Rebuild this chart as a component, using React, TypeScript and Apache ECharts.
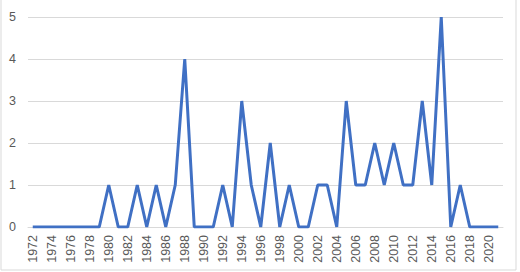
import React, { useEffect, useRef } from "react";
import * as echarts from "echarts";

const years: string[] = [];
for (let y = 1972; y <= 2021; y++) years.push(String(y));

const counts: number[] = [
  0, 0, 0, 0, 0, 0, 0, 0, // 1972-1979
  1, 0, 0, 1, 0, 1, 0, 1, 4, 0, // 1980-1989
  0, 0, 1, 0, 3, 1, 0, 2, 0, 1, // 1990-1999
  0, 0, 1, 1, 0, 3, 1, 1, 2, 1, // 2000-2009
  2, 1, 1, 3, 1, 5, 0, 1, 0, 0, // 2010-2019
  0, 0, // 2020-2021
];

const yTicks = [0, 1, 2, 3, 4, 5];

export default function App() {
  const ref = useRef<HTMLDivElement>(null);
  useEffect(() => {
    if (!ref.current) return;
    const chart = echarts.init(ref.current, undefined, { renderer: "svg" });
    chart.setOption({
      animation: false,
      backgroundColor: "#ffffff",
      textStyle: { fontFamily: "Liberation Sans" },
      graphic: [
        {
          type: "rect",
          shape: { x: 1, y: -5, width: 515, height: 275 },
          style: { fill: "none", stroke: "#d9d9d9", lineWidth: 1 },
          silent: true,
        },
      ],
      grid: { left: 28, right: 17, top: 17, bottom: 45, containLabel: false },
      xAxis: {
        type: "category",
        data: years,
        boundaryGap: true,
        axisLine: { show: true, lineStyle: { color: "#d9d9d9", width: 1 } },
        axisTick: { show: false },
        axisLabel: {
          interval: 1,
          rotate: 90,
          margin: 8,
          color: "#595959",
          fontSize: 12.5,
          fontFamily: "Liberation Sans",
        },
      },
      yAxis: {
        type: "value",
        min: yTicks[0],
        max: yTicks[yTicks.length - 1],
        interval: 1,
        axisLine: { show: false },
        axisTick: { show: false },
        splitLine: { lineStyle: { color: "#d9d9d9", width: 1 } },
        axisLabel: {
          margin: 12,
          color: "#595959",
          fontSize: 12.5,
          fontFamily: "Liberation Sans",
        },
      },
      series: [
        {
          type: "line",
          data: counts,
          symbol: "none",
          lineStyle: { color: "#4070C4", width: 3 },
        },
      ],
    });
    return () => chart.dispose();
  }, []);
  return (
    <div
      ref={ref}
      style={{ position: "fixed", left: 0, top: 0, width: 520, height: 272 }}
    />
  );
}
